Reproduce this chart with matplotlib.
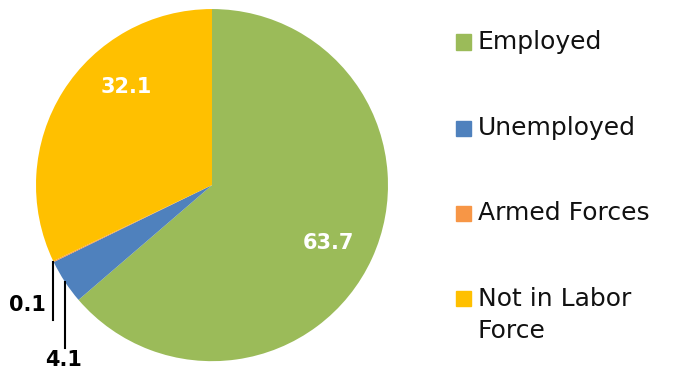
import numpy as np
import matplotlib
matplotlib.use("Agg")
import matplotlib.pyplot as plt
from matplotlib.patches import Rectangle

plt.rcParams['font.family'] = ['DejaVu Sans']

# data
categories = ['Employed', 'Unemployed', 'Armed Forces', 'Not in Labor\nForce']
values = [63.7, 4.1, 0.1, 32.1]
colors = ['#9BBB59', '#4F81BD', '#F79646', '#FFC000']
value_labels = ['63.7', '4.1', '0.1', '32.1']

fig = plt.figure(figsize=(6.73, 3.77), dpi=100)
ax = fig.add_axes([0.0535, 0.042, 0.523, 0.934])

wedges, _ = ax.pie(values, colors=colors, startangle=90, counterclock=False,
                   radius=1, wedgeprops=dict(linewidth=0))
ax.set_xlim(-1, 1)
ax.set_ylim(-1, 1)
ax.set_aspect('auto')
ax.axis('off')

# inside labels (white, bold)
ax.text(0.66, -0.33, value_labels[0], color='white', fontsize=15,
        fontweight='bold', ha='center', va='center')
ax.text(-0.49, 0.557, value_labels[3], color='white', fontsize=15,
        fontweight='bold', ha='center', va='center')

# outside labels with leader lines
def edge_point(w, frac):
    ang = np.deg2rad(w.theta1 + (w.theta2 - w.theta1) * frac)
    return np.cos(ang), np.sin(ang)

# 0.1 -> armed forces wedge
x0, y0 = edge_point(wedges[2], 0.5)
ax.plot([x0, x0], [y0, -0.767], color='black', lw=1.5, clip_on=False)
ax.text(x0 - 0.045, -0.682, value_labels[2], fontsize=15, fontweight='bold',
        ha='right', va='center')

# 4.1 -> unemployed wedge
x1, y1 = edge_point(wedges[1], 0.5)
ax.plot([x1, x1], [y1, -0.926], color='black', lw=1.5, clip_on=False)
ax.text(x1 - 0.01, -0.994, value_labels[1], fontsize=15, fontweight='bold',
        ha='center', va='center', clip_on=False)

# legend drawn by hand to keep Excel-like spacing
row_y = [42, 128, 213, 298]
W, H = 673, 377
for cat, col, yy in zip(categories, colors, row_y):
    fig.patches.append(Rectangle((456 / W, 1 - (yy + 7.5) / H), 15 / W, 15 / H,
                                 transform=fig.transFigure, color=col))
    nlines = cat.count('\n')
    fig.text(478 / W, 1 - (yy + 17 * nlines) / H, cat, fontsize=18,
             ha='left', va='center', color='#111111', linespacing=1.45)

fig.savefig('out.png', dpi=100)
